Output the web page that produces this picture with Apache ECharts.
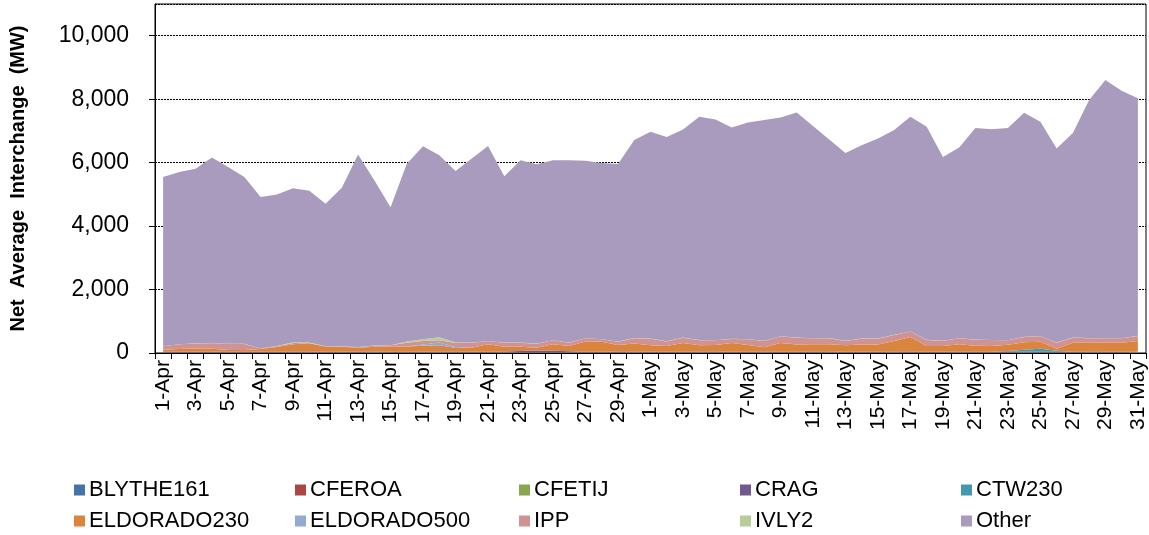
<!DOCTYPE html>
<html>
<head>
<meta charset="utf-8">
<script src="https://cdn.jsdelivr.net/npm/echarts@6/dist/echarts.min.js"></script>
<style>html,body{margin:0;padding:0;background:#fff}#c{width:1149px;height:535px}</style>
</head>
<body>
<div id="c"></div>
<script>
var categories = ["1-Apr","2-Apr","3-Apr","4-Apr","5-Apr","6-Apr","7-Apr","8-Apr","9-Apr","10-Apr",
"11-Apr","12-Apr","13-Apr","14-Apr","15-Apr","16-Apr","17-Apr","18-Apr","19-Apr","20-Apr",
"21-Apr","22-Apr","23-Apr","24-Apr","25-Apr","26-Apr","27-Apr","28-Apr","29-Apr","30-Apr",
"1-May","2-May","3-May","4-May","5-May","6-May","7-May","8-May","9-May","10-May",
"11-May","12-May","13-May","14-May","15-May","16-May","17-May","18-May","19-May","20-May",
"21-May","22-May","23-May","24-May","25-May","26-May","27-May","28-May","29-May","30-May","31-May"];

var BLYTHE161 = [12,10,9,10,12,10,8,10,12,13,10,9,10,12,10,9,10,12,10,9,10,12,10,9,10,12,10,9,10,12,10,9,10,12,10,9,10,12,10,9,10,12,10,9,10,12,10,9,10,12,10,9,10,12,10,9,10,12,10,9,10];
var CFEROA = [5,5,4,5,5,6,5,5,4,5,5,6,5,5,4,5,5,6,5,5,4,5,5,6,5,5,4,5,5,6,5,5,4,5,5,6,5,5,4,5,5,6,5,5,4,5,5,6,5,5,4,5,5,6,5,5,4,5,5,6,5];
var CFETIJ = [3,3,3,3,3,3,3,3,3,3,3,3,3,3,3,3,3,3,3,3,3,3,3,3,3,3,3,3,3,3,3,3,3,3,3,3,3,3,3,3,3,3,3,3,3,3,3,3,3,3,3,3,3,3,3,3,3,3,3,3,3];
var CRAG = [25,25,26,25,25,24,25,25,26,25,25,24,25,25,26,25,25,24,25,25,26,25,45,60,55,35,25,25,26,25,25,24,25,25,26,25,25,24,25,25,26,25,25,24,25,25,26,25,25,24,25,25,26,25,25,24,25,25,26,25,25];
var CTW230 = [0,0,0,0,0,0,0,0,0,0,0,0,0,0,0,0,0,0,0,0,0,0,0,0,0,0,0,0,0,0,0,0,0,0,0,0,0,0,0,0,0,0,0,0,0,0,0,0,0,0,0,0,20,60,90,30,0,0,0,0,0];
var ELDORADO230 = [60,82,103,92,50,50,82,145,229,261,155,155,124,155,155,166,187,198,113,124,229,155,135,89,199,167,324,314,208,250,198,177,272,198,208,272,208,134,272,229,229,229,198,229,229,335,461,177,177,229,187,177,199,233,224,62,282,282,282,282,335];
var ELDORADO500 = [0,0,0,0,0,0,0,0,5,5,0,0,0,0,0,0,40,90,30,0,0,0,0,0,0,0,0,0,0,0,0,0,0,0,0,0,0,0,0,0,0,0,0,0,0,0,0,0,0,0,0,0,0,0,0,0,0,0,0,0,0];
var IPP = [106,147,158,169,190,190,15,21,38,6,11,11,21,32,43,116,108,68,129,158,95,127,127,126,127,105,95,74,106,169,211,147,168,158,148,126,180,201,210,211,190,190,137,180,180,190,169,189,158,190,190,189,137,168,168,190,158,137,137,137,158];
var IVLY2 = [5,5,5,5,5,5,5,15,25,10,5,5,5,5,5,40,55,95,15,5,5,5,5,5,5,5,5,5,5,10,5,5,5,5,5,5,5,5,5,5,5,5,5,5,5,5,5,5,5,5,5,5,5,5,5,5,5,5,5,5,5];
var Other = [5331,5427,5502,5850,5575,5257,4770,4774,4848,4789,4489,4995,6060,5206,4351,5604,6084,5738,5406,5798,6156,5238,5744,5649,5670,5744,5591,5554,5596,6235,6513,6439,6557,7040,6958,6662,6831,6957,6895,7095,6683,6262,5922,6092,6303,6450,6766,6714,5795,6008,6671,6641,6683,7063,6756,6114,6450,7506,8139,7801,7485];

var seriesNames = ["BLYTHE161","CFEROA","CFETIJ","CRAG","CTW230","ELDORADO230","ELDORADO500","IPP","IVLY2","Other"];
var seriesData = [BLYTHE161,CFEROA,CFETIJ,CRAG,CTW230,ELDORADO230,ELDORADO500,IPP,IVLY2,Other];
var colors = ["#4572A7","#AA4643","#89A54E","#71588F","#4198AF","#DB843D","#93A9CF","#D19392","#B9CD96","#A99BBD"];
var yTicks = [0,2000,4000,6000,8000,10000];

var FONT = "Liberation Sans, Arial, sans-serif";
var chart = echarts.init(document.getElementById('c'), null, {renderer:'canvas'});

var series = seriesNames.map(function(n,i){
  return {
    name:n, type:'line', stack:'total', data:seriesData[i],
    showSymbol:false, symbol:'none', lineStyle:{width:0}, areaStyle:{color:colors[i], opacity:1},
    itemStyle:{color:colors[i]}, animation:false
  };
});

var legendCols = [74, 295, 519, 740, 961];
var legendRows = [479, 510];
var legends = seriesNames.map(function(n,i){
  return {
    orient:'horizontal', left:legendCols[i % 5], top:legendRows[Math.floor(i / 5)], padding:0,
    itemWidth:11, itemHeight:11, icon:'rect', data:[n],
    textStyle:{fontFamily:FONT, fontSize:22, color:'#000', padding:[0,0,0,-1]},
    selectedMode:false
  };
});

chart.setOption({
  animation:false,
  color: colors,
  grid:{left:149, right:3, top:4, bottom:182, show:true, borderColor:'#000', borderWidth:1, backgroundColor:'#fff'},
  legend: legends,
  xAxis:{
    type:'category', data:categories, boundaryGap:true,
    axisLine:{lineStyle:{color:'#000', width:1}},
    axisTick:{show:true, interval:0, length:6, inside:false, lineStyle:{color:'#000'}},
    axisLabel:{interval:1, rotate:90, margin:7, fontFamily:FONT, fontSize:21, color:'#000'},
    splitLine:{show:false}
  },
  yAxis:{
    type:'value', min:0, max:11000, interval:2000,
    name:'Net  Average  Interchange  (MW)', nameLocation:'middle', nameRotate:90, nameGap:127,
    nameTextStyle:{fontFamily:FONT, fontSize:20, fontWeight:'bold', color:'#000'},
    axisLine:{show:true, lineStyle:{color:'#000'}},
    axisTick:{show:true, length:6, lineStyle:{color:'#000'}},
    axisLabel:{margin:26, fontFamily:FONT, fontSize:23, color:'#000', showMaxLabel:false,
      formatter:function(v){ return yTicks.indexOf(v) >= 0 ? v.toLocaleString('en-US') : ''; }},
    splitLine:{show:true, lineStyle:{color:'#000', type:[2,1], width:1}}
  },
  series: series
});
</script>
</body>
</html>
